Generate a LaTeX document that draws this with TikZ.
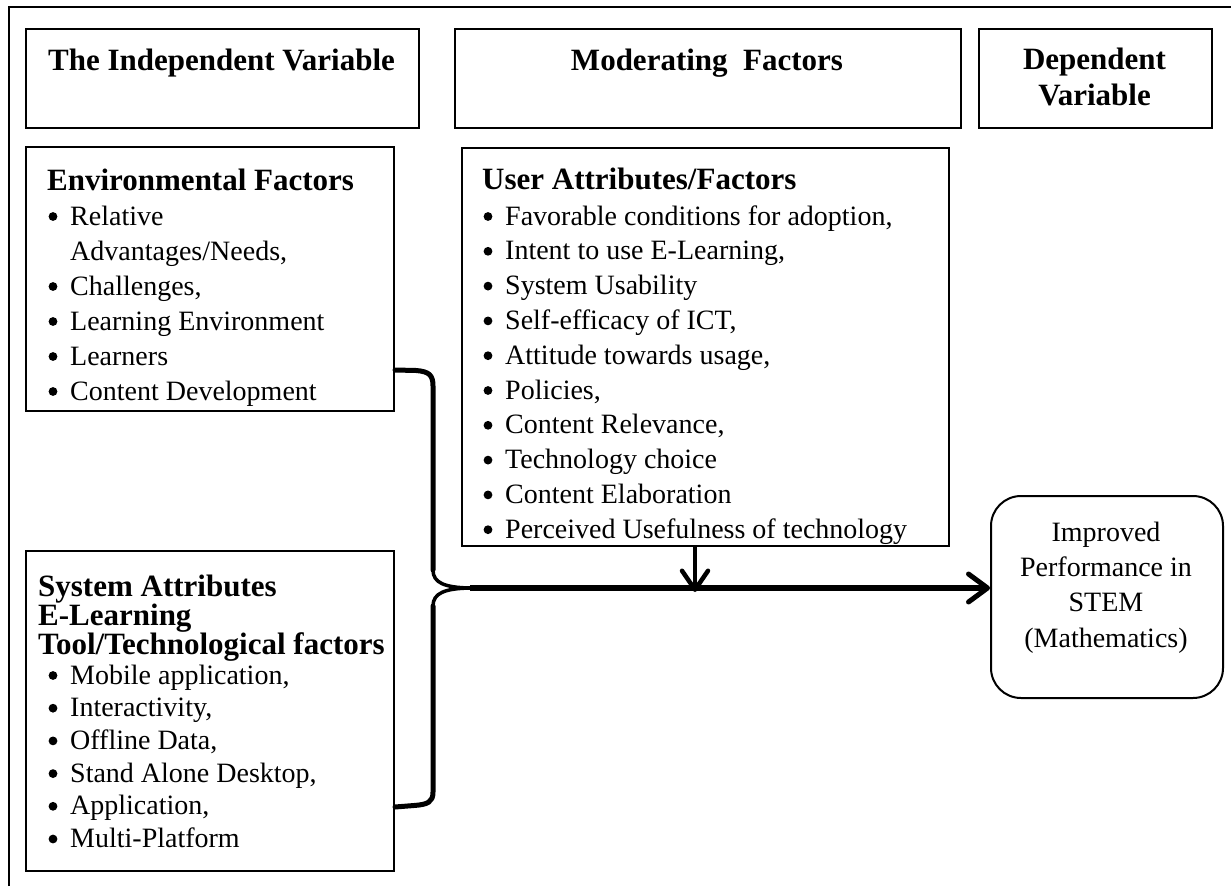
\documentclass[tikz,border=0pt]{standalone}
\usepackage{fontspec}
\setmainfont{Liberation Serif}
\usetikzlibrary{arrows.meta}
\begin{document}
\begin{tikzpicture}[x=1pt,y=-1pt,
  outer/.style={line width=1.5pt},
  box/.style={draw, line width=2pt, rectangle, inner sep=0pt, anchor=north west},
  hdc/.style={font=\fontsize{31}{35}\selectfont\bfseries, inner sep=0pt, anchor=base},
  bh/.style={font=\fontsize{31}{35}\selectfont\bfseries, inner sep=0pt, anchor=base west},
  tx/.style={font=\fontsize{28}{34}\selectfont, inner sep=0pt, anchor=base west},
  txc/.style={font=\fontsize{28}{34}\selectfont, inner sep=0pt, anchor=base},
  dot/.style={fill=black},
  brace/.style={line width=5pt, line cap=round, line join=round},
  cusp/.style={line width=3.5pt, line cap=round},
  conn/.style={line width=6pt, -{Straight Barb[length=19pt,width=28pt,line width=5pt,round]}},
  connv/.style={line width=4.5pt, -{Straight Barb[length=19pt,width=26pt,line width=4.5pt,round]}}]
\useasboundingbox (0,0) rectangle (1231,886);
\newcommand{\bul}[1]{\fill[dot] ([shift={(-17,-8.5)}]#1.base west) circle (4.4pt);}
% outer frame (only top and left visible)
\coordinate (fbl) at (9,886);
\coordinate (ftl) at (9,7);
\coordinate (ftr) at (1231,7);
\draw[outer] (fbl) -- (ftl) -- (ftr);

% header boxes
\node[box, minimum width=393pt, minimum height=99pt] (h1) at (25,28) {};
\node[box, minimum width=506pt, minimum height=99pt] (h2) at (454,28) {};
\node[box, minimum width=233pt, minimum height=99pt] (h3) at (978,28) {};
\node[hdc] (h1t) at (221.5,70) {The Independent Variable};
\node[hdc] (h2t) at (707,70) {Moderating\ \ Factors};
\node[hdc] (h3a) at (1094.5,69) {Dependent};
\node[hdc] (h3b) at (1094.5,105) {Variable};

% environmental factors
\node[box, minimum width=368pt, minimum height=264pt] (env) at (25,146) {};
\node[bh] (envh) at (47,190) {Environmental Factors};
\node[tx] (e1) at (70,225) {Relative}; \bul{e1}
\node[tx] (e1b) at (70,260) {Advantages/Needs,};
\node[tx] (e2) at (70,295) {Challenges,}; \bul{e2}
\node[tx] (e3) at (70,330) {Learning Environment}; \bul{e3}
\node[tx] (e4) at (70,365) {Learners}; \bul{e4}
\node[tx] (e5) at (70,400) {Content Development}; \bul{e5}

% user attributes
\node[box, minimum width=487pt, minimum height=398pt] (user) at (461,147) {};
\begin{scope}
\clip (user.north west) rectangle ([yshift=2.5pt]user.south east);
\node[bh] (uh) at (482,189) {User Attributes/Factors};
\foreach \t [count=\i from 0] in {{Favorable conditions for adoption,},{Intent to use E-Learning,},{System Usability},{Self-efficacy of ICT,},{Attitude towards usage,},{Policies,},{Content Relevance,},{Technology choice},{Content Elaboration},{Perceived Usefulness of technology}}
  {\node[tx] (u\i) at (505,225+34.8*\i) {\t}; \bul{u\i}}
\end{scope}

% system attributes
\node[box, minimum width=368pt, minimum height=320pt] (sys) at (25,550) {};
\node[bh] (sh1) at (38,596) {System Attributes};
\node[bh] (sh2) at (38,625) {E-Learning};
\node[bh] (sh3) at (38,654) {Tool/Technological factors};
\foreach \t [count=\i from 0] in {{Mobile application,},{Interactivity,},{Offline Data,},{Stand Alone Desktop,},{Application,},{Multi-Platform}}
  {\node[tx] (s\i) at (70,684+32.7*\i) {\t}; \bul{s\i}}

% result box
\node[box, rounded corners=30pt, minimum width=232pt, minimum height=202pt] (res) at (990,495) {};
\node[txc] (r1) at (1106,541) {Improved};
\node[txc] (r2) at (1106,576) {Performance in};
\node[txc] (r3) at (1106,611) {STEM};
\node[txc] (r4) at (1106,647) {(Mathematics)};

% brace
\coordinate (btop) at (env.east |- 0,370);
\coordinate (bbot) at (sys.east |- 0,807);
\coordinate (tip) at (470,588);
\coordinate (mid) at (695,588);
\draw[brace] (btop) -- (416,370.5) .. controls (429,371.5) and (433,375) .. (433,386) -- (433,570);
\draw[cusp] (433,570) .. controls (433,583) and (445,587.5) .. (tip);
\draw[cusp] (433,606) .. controls (433,593) and (445,588.5) .. (tip);
\draw[brace] (433,606) -- (433,792) .. controls (433,802) and (428,804.5) .. (414,805.5) -- (bbot);
% arrows
\draw[conn] (tip) -- (res.west |- tip);
\draw[connv] (user.south -| mid) -- ([yshift=-4pt]mid);
\end{tikzpicture}
\end{document}
